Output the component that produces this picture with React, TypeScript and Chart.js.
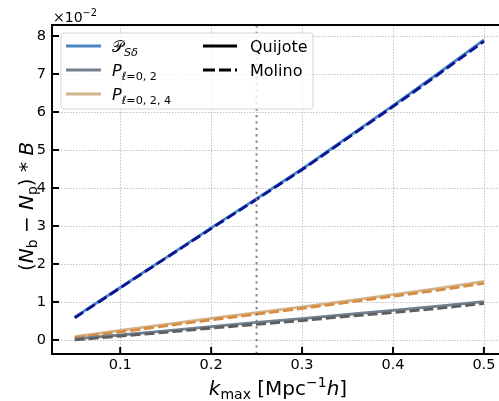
import React, { useEffect, useRef } from "react";
import { Chart, registerables } from "chart.js";

Chart.register(...registerables);

const kmax = [0.05, 0.1, 0.15, 0.2, 0.25, 0.3, 0.35, 0.4, 0.45, 0.5];
const psdQuijote = [0.6, 1.38, 2.16, 2.95, 3.72, 4.5, 5.33, 6.17, 7.02, 7.9];
const psdMolino = [0.58, 1.37, 2.15, 2.93, 3.7, 4.48, 5.31, 6.14, 6.99, 7.86];
const p02Quijote = [0.03, 0.13, 0.24, 0.35, 0.46, 0.56, 0.67, 0.78, 0.89, 1.01];
const p02Molino = [0.0, 0.1, 0.2, 0.31, 0.41, 0.51, 0.62, 0.72, 0.83, 0.96];
const p024Quijote = [0.09, 0.25, 0.41, 0.57, 0.72, 0.87, 1.03, 1.19, 1.36, 1.54];
const p024Molino = [0.06, 0.21, 0.37, 0.53, 0.68, 0.83, 0.99, 1.15, 1.31, 1.49];
const kCut = 0.25;

const FAM = "'DejaVu Sans', sans-serif";

type Seg = { t: string; it?: boolean; s?: "sub" | "sup"; fam?: string };

function segFont(seg: Seg, size: number) {
  const sz = seg.s ? size * 0.7 : size;
  return `${seg.it ? "italic " : ""}${sz}px ${seg.fam || FAM}`;
}

function richWidth(ctx: CanvasRenderingContext2D, segs: Seg[], size: number) {
  let w = 0;
  for (const s of segs) {
    ctx.font = segFont(s, size);
    w += ctx.measureText(s.t).width;
  }
  return w;
}

function drawRich(
  ctx: CanvasRenderingContext2D,
  segs: Seg[],
  x: number,
  y: number,
  size: number,
  align: "left" | "center"
) {
  let cx = x;
  if (align === "center") cx = x - richWidth(ctx, segs, size) / 2;
  ctx.textBaseline = "alphabetic";
  ctx.textAlign = "left";
  for (const s of segs) {
    ctx.font = segFont(s, size);
    let dy = 0;
    if (s.s === "sub") dy = size * 0.22;
    if (s.s === "sup") dy = -size * 0.4;
    ctx.fillText(s.t, cx, y + dy);
    cx += ctx.measureText(s.t).width;
  }
}

const decor = {
  id: "decor",
  beforeDatasetsDraw(chart: any) {
    const { ctx, chartArea: a, scales } = chart;
    ctx.save();
    ctx.strokeStyle = "#b3b3b3";
    ctx.lineWidth = 0.8;
    ctx.setLineDash([1.5, 1.5]);
    for (const t of scales.x.ticks) {
      const px = Math.round(scales.x.getPixelForValue(t.value)) + 0.5;
      ctx.beginPath();
      ctx.moveTo(px, a.top);
      ctx.lineTo(px, a.bottom);
      ctx.stroke();
    }
    for (const t of scales.y.ticks) {
      const py = Math.round(scales.y.getPixelForValue(t.value)) + 0.5;
      ctx.beginPath();
      ctx.moveTo(a.left, py);
      ctx.lineTo(a.right, py);
      ctx.stroke();
    }
    ctx.restore();
  },
  afterDatasetsDraw(chart: any) {
    const { ctx, chartArea: a, scales } = chart;
    ctx.save();
    // vertical cut line
    const vx = scales.x.getPixelForValue(kCut);
    ctx.strokeStyle = "#808080";
    ctx.lineWidth = 2;
    ctx.setLineDash([2.2, 4.2]);
    ctx.beginPath();
    ctx.moveTo(vx, a.bottom);
    ctx.lineTo(vx, a.top);
    ctx.stroke();
    ctx.setLineDash([]);

    // spines
    ctx.strokeStyle = "#000";
    ctx.lineWidth = 2;
    ctx.beginPath();
    ctx.moveTo(a.left, a.top);
    ctx.lineTo(a.right + 2, a.top);
    ctx.moveTo(a.left, a.top - 1);
    ctx.lineTo(a.left, a.bottom + 1);
    ctx.moveTo(a.left - 1, a.bottom);
    ctx.lineTo(a.right + 2, a.bottom);
    ctx.stroke();

    // inward ticks
    ctx.lineWidth = 2;
    for (const t of scales.x.ticks) {
      const px = scales.x.getPixelForValue(t.value);
      ctx.beginPath();
      ctx.moveTo(px, a.bottom);
      ctx.lineTo(px, a.bottom - 7);
      ctx.stroke();
    }
    for (const t of scales.y.ticks) {
      const py = scales.y.getPixelForValue(t.value);
      ctx.beginPath();
      ctx.moveTo(a.left, py);
      ctx.lineTo(a.left + 7, py);
      ctx.stroke();
    }

    // legend
    const lx = 61, ly = 33, lw = 252, lh = 76, r = 3;
    ctx.beginPath();
    ctx.moveTo(lx + r, ly);
    ctx.arcTo(lx + lw, ly, lx + lw, ly + lh, r);
    ctx.arcTo(lx + lw, ly + lh, lx, ly + lh, r);
    ctx.arcTo(lx, ly + lh, lx, ly, r);
    ctx.arcTo(lx, ly, lx + lw, ly, r);
    ctx.closePath();
    ctx.fillStyle = "rgba(255,255,255,0.8)";
    ctx.fill();
    ctx.strokeStyle = "rgba(204,204,204,0.8)";
    ctx.lineWidth = 1;
    ctx.stroke();

    const rows = [46, 70, 94];
    const col1 = ["#4a86c0", "#708090", "#d2b48c"];
    const labels1: Seg[][] = [
      [{ t: "\u{1D4AB}", it: false }, { t: "S\u03B4", it: true, s: "sub" }],
      [{ t: "P", it: true }, { t: "\u2113", it: true, s: "sub" }, { t: "=0, 2", s: "sub" }],
      [{ t: "P", it: true }, { t: "\u2113", it: true, s: "sub" }, { t: "=0, 2, 4", s: "sub" }],
    ];
    ctx.fillStyle = "#000";
    for (let i = 0; i < 3; i++) {
      ctx.strokeStyle = col1[i];
      ctx.lineWidth = 3;
      ctx.beginPath();
      ctx.moveTo(66, rows[i]);
      ctx.lineTo(101, rows[i]);
      ctx.stroke();
      drawRich(ctx, labels1[i], 112, rows[i] + 6, 16, "left");
    }
    ctx.strokeStyle = "#000";
    ctx.lineWidth = 3;
    ctx.beginPath();
    ctx.moveTo(203, rows[0]);
    ctx.lineTo(237, rows[0]);
    ctx.stroke();
    ctx.setLineDash([12, 4]);
    ctx.beginPath();
    ctx.moveTo(203, rows[1]);
    ctx.lineTo(237, rows[1]);
    ctx.stroke();
    ctx.setLineDash([]);
    ctx.font = `16px ${FAM}`;
    ctx.textAlign = "left";
    ctx.textBaseline = "alphabetic";
    ctx.fillText("Quijote", 250, rows[0] + 6);
    ctx.fillText("Molino", 250, rows[1] + 6);

    // offset text
    drawRich(ctx, [{ t: "\u00D710" }, { t: "\u22122", s: "sup" }], 53, 22, 14, "left");

    // x title
    drawRich(
      ctx,
      [
        { t: "k", it: true },
        { t: "max", s: "sub" },
        { t: " [Mpc" },
        { t: "\u22121", s: "sup" },
        { t: "h", it: true },
        { t: "]" },
      ],
      (a.left + a.right) / 2 + 3,
      395,
      20,
      "center"
    );

    // y title
    ctx.save();
    ctx.translate(33, (a.top + a.bottom) / 2 + 17);
    ctx.rotate(-Math.PI / 2);
    drawRich(
      ctx,
      [
        { t: "(" },
        { t: "N", it: true },
        { t: "b", s: "sub" },
        { t: " \u2212 " },
        { t: "N", it: true },
        { t: "p", s: "sub" },
        { t: ") * " },
        { t: "B", it: true },
      ],
      0,
      0,
      20,
      "center"
    );
    ctx.restore();

    ctx.restore();
  },
};

function pts(ys: number[]) {
  return ys.map((y, i) => ({ x: kmax[i], y }));
}

export default function App() {
  const ref = useRef<HTMLCanvasElement>(null);
  useEffect(() => {
    document.body.style.margin = "0";
    const line = (data: number[], color: string, dashed: boolean) => ({
      data: pts(data),
      borderColor: color,
      backgroundColor: color,
      borderWidth: 2.8,
      borderDash: dashed ? [10, 4] : [],
      pointRadius: 0,
      tension: 0,
      fill: false,
    });
    const chart = new Chart(ref.current!, {
      type: "line",
      data: {
        datasets: [
          line(psdMolino, "#0a1496", true),
          line(psdQuijote, "#4a86c0", false),
          line(p02Molino, "#5e5e5e", true),
          line(p02Quijote, "#708090", false),
          line(p024Molino, "#d98b3f", true),
          line(p024Quijote, "#d2b48c", false),
        ],
      },
      options: {
        animation: false,
        responsive: false,
        events: [],
        layout: { padding: { top: 25, right: 1, left: 0, bottom: 0 } },
        plugins: { legend: { display: false }, tooltip: { enabled: false } },
        scales: {
          x: {
            type: "linear",
            min: 0.025,
            max: 0.5155,
            grid: { display: false, drawTicks: false },
            border: { display: false },
            ticks: {
              stepSize: 0.1,
              includeBounds: false,
              autoSkip: false,
              maxRotation: 0,
              padding: 3,
              color: "#000",
              font: { family: FAM, size: 14.5 },
              callback: (v: any) => Number(v).toFixed(1),
            },
            afterFit: (s: any) => {
              s.height = 47;
            },
          },
          y: {
            type: "linear",
            min: -0.37,
            max: 8.29,
            grid: { display: false, drawTicks: false },
            border: { display: false },
            ticks: {
              stepSize: 1,
              includeBounds: false,
              autoSkip: false,
              padding: 6,
              color: "#000",
              font: { family: FAM, size: 14.5 },
              callback: (v: any) => String(Math.round(Number(v))),
            },
            afterFit: (s: any) => {
              s.width = 52;
            },
          },
        },
      },
      plugins: [decor],
    });
    return () => chart.destroy();
  }, []);
  return (
    <div style={{ width: 499, height: 401 }}>
      <canvas ref={ref} width={499} height={401} style={{ display: "block" }} />
    </div>
  );
}
